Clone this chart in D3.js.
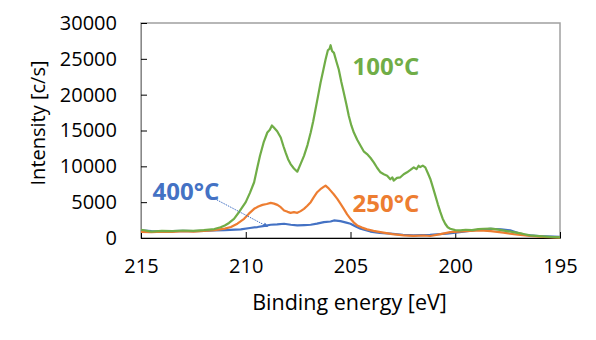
<!DOCTYPE html>
<html>
<head>
<meta charset="utf-8">
<script src="https://cdn.jsdelivr.net/npm/d3@7"></script>
<style>
  body { margin: 0; background: #fff; }
  text { font-family: "Open Sans", sans-serif; }
</style>
</head>
<body>
<div id="chart"></div>
<script>
// binding energy [eV] and intensity [c/s]
var e100 = [215, 214.5, 214, 213.5, 213, 212.5, 212, 211.5, 211.2, 211.0, 210.8, 210.56, 210.3, 210.0, 209.8, 209.6, 209.45, 209.32, 209.15, 208.97, 208.85, 208.75, 208.68, 208.5, 208.33, 208.2, 208.1, 207.98, 207.86, 207.7, 207.54, 207.4, 207.22, 207.05, 206.9, 206.78, 206.67, 206.55, 206.43, 206.3, 206.19, 206.08, 206.0, 205.95, 205.88, 205.79, 205.67, 205.56, 205.44, 205.32, 205.2, 205.08, 204.96, 204.84, 204.68, 204.52, 204.37, 204.21, 204.05, 203.89, 203.73, 203.57, 203.41, 203.25, 203.1, 203.0, 202.94, 202.78, 202.62, 202.46, 202.3, 202.14, 201.98, 201.85, 201.75, 201.67, 201.55, 201.43, 201.3, 201.19, 201.07, 200.95, 200.83, 200.71, 200.6, 200.48, 200.36, 200.24, 200.0, 199.76, 199.5, 199.2, 198.9, 198.65, 198.3, 198.0, 197.6, 197.22, 196.8, 196.43, 196.0, 195.5, 195.0];
var i100 = [1150, 900, 1000, 950, 1050, 1000, 1100, 1250, 1500, 1750, 2100, 2680, 3700, 5000, 6300, 7780, 9800, 11470, 13300, 14720, 15100, 15700, 15500, 14900, 14030, 12800, 11940, 11000, 10320, 9700, 9250, 10200, 11470, 13000, 14720, 16300, 17960, 19800, 21670, 23400, 24900, 26200, 26400, 26900, 26100, 25830, 24600, 23510, 21800, 20270, 18700, 17030, 15700, 14720, 13700, 12860, 12100, 11710, 11200, 10560, 9800, 9170, 8900, 8700, 8200, 8450, 8000, 8400, 8470, 8900, 9170, 9500, 9860, 9600, 10080, 9900, 10100, 9860, 9000, 8240, 7100, 5920, 4700, 3610, 2700, 1990, 1500, 1290, 1100, 1060, 1150, 1100, 1250, 1290, 1300, 1200, 1000, 830, 600, 360, 250, 150, 80];

var e250 = [215, 214.5, 214, 213.5, 213, 212.5, 212, 211.5, 211.0, 210.71, 210.4, 210.08, 209.85, 209.6, 209.4, 209.2, 209.0, 208.81, 208.65, 208.49, 208.33, 208.17, 208.0, 207.86, 207.7, 207.54, 207.38, 207.22, 207.06, 206.9, 206.75, 206.59, 206.4, 206.3, 206.19, 206.07, 205.95, 205.8, 205.63, 205.48, 205.32, 205.16, 205.0, 204.84, 204.68, 204.45, 204.21, 203.9, 203.57, 203.0, 202.46, 202.0, 201.5, 201.19, 200.7, 200.24, 199.5, 198.81, 198.3, 197.7, 197.0, 196.43, 195.8, 195.0];
var i250 = [850, 800, 900, 850, 950, 900, 1000, 1100, 1300, 1530, 2000, 2680, 3400, 4070, 4400, 4620, 4750, 4900, 4800, 4620, 4300, 3840, 3650, 3510, 3600, 3510, 3750, 4070, 4500, 5000, 5700, 6390, 6900, 7100, 7310, 7000, 6610, 6100, 5460, 4800, 4070, 3300, 2680, 2150, 1750, 1450, 1200, 1000, 830, 550, 360, 300, 350, 280, 550, 830, 950, 1060, 950, 740, 450, 280, 150, 50];

var e400 = [215, 214.5, 214, 213.5, 213, 212.5, 212, 211.5, 211.0, 210.24, 209.8, 209.44, 209.1, 208.81, 208.5, 208.17, 207.85, 207.54, 207.2, 206.9, 206.6, 206.27, 205.95, 205.79, 205.48, 205.2, 205.0, 204.75, 204.52, 204.05, 203.6, 203.1, 202.5, 202.0, 201.2, 200.4, 199.6, 198.9, 198.33, 197.8, 197.38, 196.75, 196.0, 195.0];
var i400 = [1060, 950, 900, 950, 1000, 950, 1000, 1050, 1100, 1200, 1400, 1530, 1700, 1850, 1900, 1990, 1850, 1750, 1800, 1850, 2000, 2220, 2300, 2450, 2350, 2150, 1990, 1600, 1290, 900, 700, 600, 450, 360, 450, 600, 900, 1150, 1290, 1200, 1060, 450, 250, 150];

var seriesNames = ["400°C", "250°C", "100°C"];
var seriesColors = ["#4472C4", "#ED7D31", "#70AD47"];
var xTicks = [215, 210, 205, 200, 195];
var yTicks = [0, 5000, 10000, 15000, 20000, 25000, 30000];

var margin = { top: 23, right: 36, bottom: 102, left: 141 },
    width = 596 - margin.left - margin.right,
    height = 340 - margin.top - margin.bottom;

var x = d3.scaleLinear().domain([215, 195]).range([0, width]);
var y = d3.scaleLinear().domain([0, 30000]).range([height, 0]);

var svg = d3.select("#chart").append("svg")
    .attr("width", 596)
    .attr("height", 340);

var g = svg.append("g")
    .attr("transform", `translate(${margin.left}, ${margin.top})`);

// plot area frame
g.append("rect")
    .attr("width", width)
    .attr("height", height)
    .attr("fill", "none")
    .attr("stroke", "#a0a0a0")
    .attr("stroke-width", 1.5);

// y axis, ticks pointing inwards
var yAxis = g.append("g")
    .call(d3.axisLeft(y).tickValues(yTicks).tickFormat(d3.format("d"))
        .tickSizeInner(-6).tickSizeOuter(0).tickPadding(24));
yAxis.select(".domain").attr("stroke", "#888");
yAxis.selectAll(".tick line").attr("stroke", "#000");
yAxis.selectAll("text")
    .attr("font-size", 20)
    .attr("fill", "#000")
    .attr("font-family", "Open Sans");

// x axis
var xAxis = g.append("g")
    .attr("transform", "translate(0," + height + ")")
    .call(d3.axisBottom(x).tickValues(xTicks).tickSizeInner(-6).tickSizeOuter(0).tickPadding(21));
xAxis.select(".domain").attr("stroke", "#000");
xAxis.selectAll(".tick line").attr("stroke", "#000");
xAxis.selectAll("text")
    .attr("font-size", 20)
    .attr("fill", "#000")
    .attr("font-family", "Open Sans");

// axis titles
svg.append("text")
    .attr("x", margin.left + width / 2 - 1)
    .attr("y", 310)
    .attr("text-anchor", "middle")
    .attr("font-size", 21.5)
    .text("Binding energy [eV]");

svg.append("text")
    .attr("transform", "translate(45,123) rotate(-90)")
    .attr("text-anchor", "middle")
    .attr("font-size", 20)
    .text("Intensity [c/s]");

// spectra
var line = d3.line()
    .x(function (d) { return x(d[0]); })
    .y(function (d) { return y(d[1]); });

var allSeries = [
    d3.zip(e400, i400),
    d3.zip(e250, i250),
    d3.zip(e100, i100)
];

g.selectAll(".spectrum")
    .data(allSeries)
    .enter().append("path")
    .attr("class", "spectrum")
    .attr("d", line)
    .attr("fill", "none")
    .attr("stroke", function (d, i) { return seriesColors[i]; })
    .attr("stroke-width", 2.2)
    .attr("stroke-linejoin", "round");

// series labels (anchored in data space)
var labelPos = [[214.45, 5330], [204.9, 3600], [204.9, 22700]];

g.selectAll(".series-label")
    .data(seriesNames)
    .enter().append("text")
    .attr("class", "series-label")
    .attr("x", function (d, i) { return x(labelPos[i][0]); })
    .attr("y", function (d, i) { return y(labelPos[i][1]); })
    .attr("font-size", 24)
    .attr("font-weight", "bold")
    .attr("fill", function (d, i) { return seriesColors[i]; })
    .text(function (d) { return d; });

// leader line from the 400°C label to its curve
svg.append("defs").append("marker")
    .attr("id", "arrow")
    .attr("viewBox", "0 0 10 10")
    .attr("refX", 9)
    .attr("refY", 5)
    .attr("markerWidth", 7)
    .attr("markerHeight", 5)
    .attr("orient", "auto")
    .append("path")
    .attr("d", "M0,0L10,5L0,10z")
    .attr("fill", seriesColors[0]);

g.append("line")
    .attr("x1", x(211.38))
    .attr("y1", y(5320))
    .attr("x2", x(208.95))
    .attr("y2", y(1570))
    .attr("stroke", seriesColors[0])
    .attr("stroke-width", 1)
    .attr("stroke-dasharray", "1.5,1")
    .attr("marker-end", "url(#arrow)");
</script>
</body>
</html>
